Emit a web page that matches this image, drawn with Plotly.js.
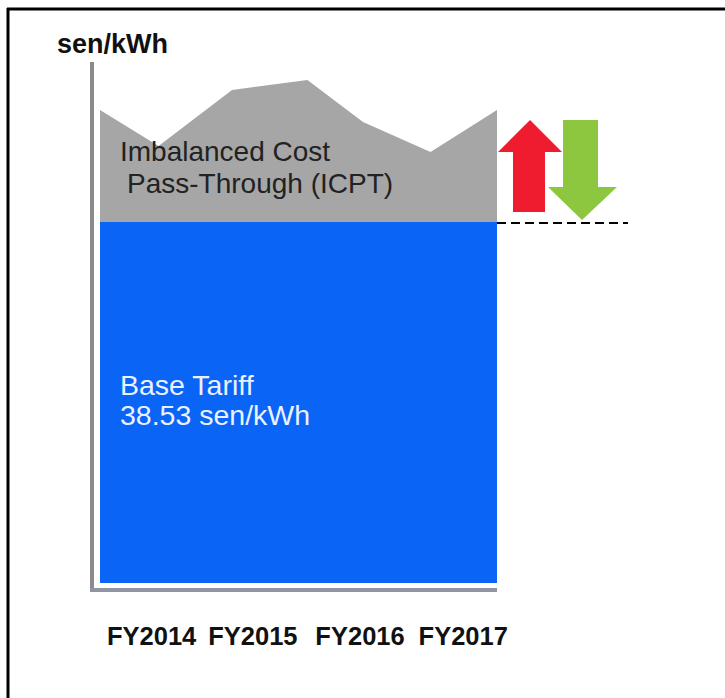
<!DOCTYPE html>
<html>
<head>
<meta charset="utf-8">
<script src="https://cdn.plot.ly/plotly-3.0.1.min.js"></script>
<style>html,body{margin:0;padding:0;background:#fff;}#chart{width:725px;height:698px;}</style>
</head>
<body>
<div id="chart"></div>
<script>
// Data
var fiscalYears = ["FY2014", "FY2015", "FY2016", "FY2017"];
var yearPositions = [0.52, 1.54, 2.62, 3.66];
var baseTariff = 38.53;             // sen/kWh
var baseX = [0, 4];
var icptX = [0, 0.59, 1.33, 2.09, 2.65, 3.33, 4.0];   // schematic positions along the period
var icptValues = [11.95, 8.1, 14.08, 15.15, 10.67, 7.47, 11.95]; // ICPT on top of base, sen/kWh

var totalValues = icptValues.map(function (v) { return baseTariff + v; });
var baseValues = baseX.map(function () { return baseTariff; });

// layout geometry helpers (pixel -> paper)
var L = 93, R = 497, T = 62, B = 590;
function px(x) { return (x - L) / (R - L); }
function py(y) { return (B - y) / (B - T); }
function poly(pts) {
  return pts.map(function (p, i) { return (i ? "L" : "M") + px(p[0]).toFixed(4) + "," + py(p[1]).toFixed(4); }).join(" ") + " Z";
}

var traces = [
  {
    x: baseX, y: baseValues, type: "scatter", mode: "lines",
    fill: "tozeroy", fillcolor: "#0a64f5", line: { width: 0, color: "#0a64f5" },
    hoverinfo: "skip", showlegend: false
  },
  {
    x: icptX, y: totalValues, type: "scatter", mode: "lines",
    fill: "tonexty", fillcolor: "#a6a6a6", line: { width: 0, color: "#a6a6a6" },
    hoverinfo: "skip", showlegend: false
  }
];

var FONT = "Liberation Sans, Arial, sans-serif";

var layout = {
  width: 725, height: 698,
  margin: { l: L, r: 725 - R, t: T, b: 698 - B, pad: 0 },
  paper_bgcolor: "#ffffff", plot_bgcolor: "rgba(0,0,0,0)",
  showlegend: false,
  xaxis: {
    range: [-0.0705, 4], showgrid: false, zeroline: false, showline: false,
    tickmode: "array", tickvals: yearPositions, ticktext: fiscalYears,
    ticks: "", ticklabelstandoff: 28,
    tickfont: { family: FONT, size: 25.5, color: "#111111", weight: "bold" },
    fixedrange: true
  },
  yaxis: {
    range: [-0.747, 55.6], showgrid: false, zeroline: false, showline: false,
    showticklabels: false, ticks: "", fixedrange: true
  },
  annotations: [
    { xref: "paper", yref: "paper", x: px(57), y: py(44), xanchor: "left", yanchor: "middle",
      text: "<b>sen/kWh</b>", showarrow: false, borderpad: 0, borderwidth: 0,
      font: { family: FONT, size: 27, color: "#111111" } },
    { xref: "paper", yref: "paper", x: px(120), y: py(151), xanchor: "left", yanchor: "middle",
      text: "Imbalanced Cost", showarrow: false, borderpad: 0, borderwidth: 0,
      font: { family: FONT, size: 28, color: "#222222" } },
    { xref: "paper", yref: "paper", x: px(127), y: py(183), xanchor: "left", yanchor: "middle",
      text: "Pass-Through (ICPT)", showarrow: false, borderpad: 0, borderwidth: 0,
      font: { family: FONT, size: 28, color: "#222222" } },
    { xref: "paper", yref: "paper", x: px(120), y: py(385), xanchor: "left", yanchor: "middle",
      text: "Base Tariff", showarrow: false, borderpad: 0, borderwidth: 0,
      font: { family: FONT, size: 28.5, color: "#eaf1ff" } },
    { xref: "paper", yref: "paper", x: px(120), y: py(415), xanchor: "left", yanchor: "middle",
      text: baseTariff.toFixed(2) + " sen/kWh", showarrow: false, borderpad: 0, borderwidth: 0,
      font: { family: FONT, size: 28.5, color: "#eaf1ff" } }
  ],
  shapes: [
    // frame (top and left)
    { type: "line", xref: "paper", yref: "paper", x0: px(7), x1: px(725), y0: py(9), y1: py(9),
      line: { color: "#000000", width: 3 } },
    { type: "line", xref: "paper", yref: "paper", x0: px(8), x1: px(8), y0: py(8), y1: py(698),
      line: { color: "#000000", width: 3 } },
    // y axis line
    { type: "line", xref: "paper", yref: "paper", x0: px(92), x1: px(92), y0: py(62), y1: py(591),
      line: { color: "#8a8a8a", width: 4 } },
    // x axis line
    { type: "line", xref: "paper", yref: "paper", x0: px(90), x1: px(497), y0: py(590), y1: py(590),
      line: { color: "#8e95a3", width: 4 } },
    // dashed reference line at base tariff level
    { type: "line", xref: "paper", yref: "paper", x0: px(497), x1: px(628), y0: py(223), y1: py(223),
      line: { color: "#000000", width: 2, dash: "9px,5px" } },
    // red up arrow
    { type: "path", xref: "paper", yref: "paper",
      path: poly([[530,120],[562,152],[545,152],[545,212],[513,212],[513,152],[498,152]]),
      fillcolor: "#ee1c2e", line: { width: 0 } },
    // green down arrow
    { type: "path", xref: "paper", yref: "paper",
      path: poly([[563,120],[598,120],[598,187],[617,187],[582,220],[548,187],[563,187]]),
      fillcolor: "#8dc63f", line: { width: 0 } }
  ]
};

Plotly.newPlot("chart", traces, layout, { displayModeBar: false, staticPlot: true });
</script>
</body>
</html>
